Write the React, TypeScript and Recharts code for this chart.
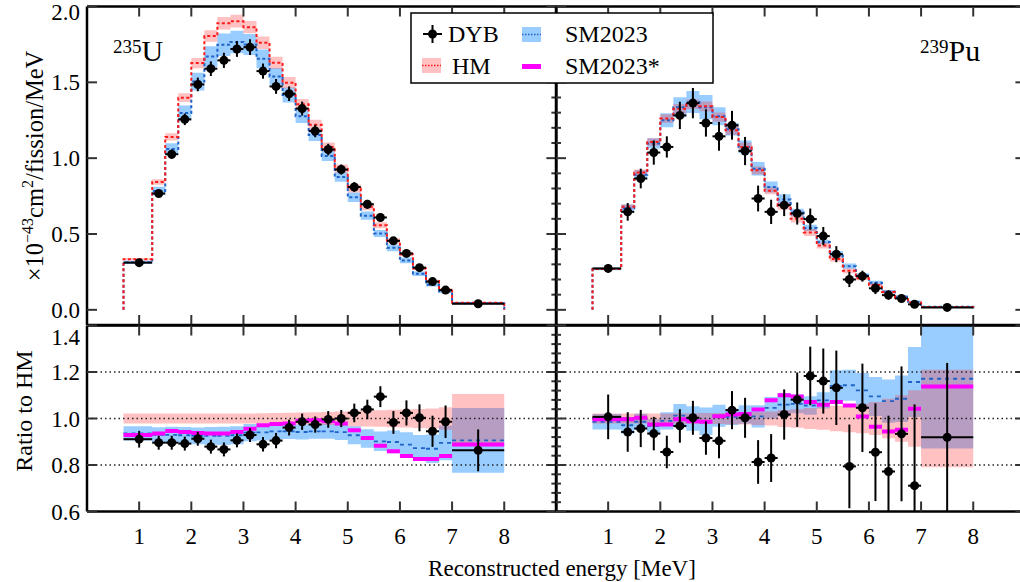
import { ComposedChart, Line, Area, Scatter, XAxis, YAxis, ErrorBar, ReferenceLine } from 'recharts';

const FONT = '"Liberation Serif", "Times New Roman", serif';
const TICK = '#333';

// reconstructed energy binning [MeV]
const binEdges = [0.7, 1.25, 1.5, 1.75, 2.0, 2.25, 2.5, 2.75, 3.0, 3.25, 3.5, 3.75, 4.0, 4.25, 4.5, 4.75, 5.0, 5.25, 5.5, 5.75, 6.0, 6.25, 6.5, 6.75, 7.0, 8.0];
const dybEnergy = [1.0, 1.375, 1.625, 1.875, 2.125, 2.375, 2.625, 2.875, 3.125, 3.375, 3.625, 3.875, 4.125, 4.375, 4.625, 4.875, 5.125, 5.375, 5.625, 5.875, 6.125, 6.375, 6.625, 6.875, 7.5];

const xTicks = [1, 2, 3, 4, 5, 6, 7, 8];
const specTicks = [0, 0.5, 1.0, 1.5, 2.0];
const specMinor = [0.1, 0.2, 0.3, 0.4, 0.6, 0.7, 0.8, 0.9, 1.1, 1.2, 1.3, 1.4, 1.6, 1.7, 1.8, 1.9];
const ratioTicks = [0.6, 0.8, 1.0, 1.2, 1.4];
const ratioMinor = [0.64, 0.68, 0.72, 0.76, 0.84, 0.88, 0.92, 0.96, 1.04, 1.08, 1.12, 1.16, 1.24, 1.28, 1.32, 1.36];
const ratioGrid = [0.8, 1.0, 1.2];

// 235U, x10^-43 cm2/fission/MeV
const u235Dyb = [0.311, 0.767, 1.026, 1.256, 1.486, 1.59, 1.645, 1.72, 1.732, 1.574, 1.473, 1.425, 1.327, 1.179, 1.057, 0.925, 0.81, 0.696, 0.609, 0.455, 0.372, 0.278, 0.186, 0.13, 0.04];
const u235DybErr = [0.011, 0.023, 0.031, 0.038, 0.045, 0.048, 0.05, 0.052, 0.052, 0.05, 0.049, 0.048, 0.046, 0.041, 0.038, 0.033, 0.032, 0.029, 0.027, 0.022, 0.02, 0.016, 0.012, 0.009, 0.004];
const u235Hm = [0.334, 0.843, 1.14, 1.399, 1.627, 1.805, 1.89, 1.903, 1.864, 1.761, 1.629, 1.498, 1.355, 1.22, 1.074, 0.931, 0.8, 0.679, 0.558, 0.455, 0.367, 0.273, 0.19, 0.135, 0.047];
const u235Sm = [0.313, 0.784, 1.06, 1.298, 1.505, 1.67, 1.748, 1.766, 1.75, 1.655, 1.539, 1.416, 1.276, 1.153, 1.015, 0.876, 0.742, 0.621, 0.503, 0.409, 0.326, 0.238, 0.165, 0.121, 0.043];
// 235U, ratio to HM
const u235DybRatio = [0.911, 0.896, 0.896, 0.892, 0.913, 0.879, 0.867, 0.906, 0.929, 0.889, 0.905, 0.961, 0.986, 0.974, 0.996, 1.0, 1.024, 1.039, 1.094, 0.983, 1.024, 1.003, 0.945, 0.986, 0.863];
const u235DybRatioErr = [0.036, 0.03, 0.03, 0.03, 0.03, 0.03, 0.03, 0.03, 0.03, 0.031, 0.033, 0.034, 0.035, 0.035, 0.036, 0.037, 0.04, 0.042, 0.045, 0.049, 0.054, 0.058, 0.067, 0.07, 0.09];
const u235HmErr = [0.021, 0.021, 0.021, 0.021, 0.021, 0.021, 0.022, 0.022, 0.022, 0.023, 0.024, 0.025, 0.026, 0.027, 0.028, 0.03, 0.033, 0.034, 0.036, 0.038, 0.039, 0.041, 0.043, 0.048, 0.105];
const u235SmRatio = [0.936, 0.93, 0.93, 0.928, 0.925, 0.925, 0.925, 0.928, 0.939, 0.94, 0.945, 0.945, 0.942, 0.945, 0.945, 0.941, 0.928, 0.914, 0.902, 0.899, 0.888, 0.873, 0.87, 0.895, 0.906];
const u235SmErr = [0.031, 0.032, 0.034, 0.035, 0.036, 0.038, 0.039, 0.039, 0.037, 0.035, 0.034, 0.033, 0.032, 0.032, 0.032, 0.034, 0.039, 0.04, 0.042, 0.049, 0.053, 0.056, 0.061, 0.075, 0.139];
const u235SmStar = [0.929, 0.936, 0.946, 0.942, 0.938, 0.936, 0.936, 0.942, 0.956, 0.971, 0.976, 0.978, 0.99, 0.993, 0.988, 0.978, 0.95, 0.916, 0.883, 0.859, 0.839, 0.826, 0.826, 0.839, 0.888];

// 239Pu, x10^-43 cm2/fission/MeV
const pu239Dyb = [0.273, 0.646, 0.866, 1.037, 1.074, 1.282, 1.363, 1.232, 1.144, 1.217, 1.047, 0.734, 0.646, 0.69, 0.635, 0.598, 0.486, 0.367, 0.2, 0.222, 0.142, 0.097, 0.075, 0.036, 0.016];
const pu239DybErr = [0.026, 0.058, 0.065, 0.08, 0.07, 0.09, 0.1, 0.09, 0.095, 0.095, 0.093, 0.085, 0.08, 0.072, 0.073, 0.07, 0.06, 0.053, 0.05, 0.036, 0.038, 0.03, 0.025, 0.02, 0.006];
const pu239Hm = [0.27, 0.679, 0.905, 1.107, 1.261, 1.326, 1.355, 1.342, 1.271, 1.184, 1.074, 0.92, 0.785, 0.685, 0.6, 0.51, 0.424, 0.335, 0.257, 0.208, 0.163, 0.118, 0.08, 0.048, 0.018];
const pu239Sm = [0.27, 0.67, 0.89, 1.097, 1.25, 1.335, 1.37, 1.336, 1.276, 1.19, 1.074, 0.93, 0.81, 0.727, 0.642, 0.54, 0.448, 0.367, 0.288, 0.226, 0.178, 0.12, 0.086, 0.053, 0.02];
// 239Pu, ratio to HM
const pu239DybRatio = [1.007, 0.942, 0.957, 0.935, 0.856, 0.968, 1.003, 0.916, 0.904, 1.036, 1.003, 0.813, 0.83, 1.017, 1.081, 1.183, 1.161, 1.132, 0.794, 1.046, 0.855, 0.772, 0.934, 0.711, 0.919];
const pu239DybRatioErr = [0.096, 0.085, 0.08, 0.072, 0.07, 0.072, 0.073, 0.072, 0.075, 0.082, 0.086, 0.094, 0.103, 0.108, 0.117, 0.126, 0.14, 0.16, 0.18, 0.19, 0.21, 0.24, 0.29, 0.35, 0.32];
const pu239HmErr = [0.022, 0.022, 0.022, 0.022, 0.022, 0.023, 0.023, 0.024, 0.024, 0.025, 0.026, 0.028, 0.03, 0.037, 0.04, 0.045, 0.048, 0.055, 0.059, 0.063, 0.071, 0.085, 0.1, 0.121, 0.21];
const pu239SmRatio = [0.986, 0.971, 0.986, 0.967, 0.99, 1.012, 1.0, 0.988, 1.012, 1.007, 1.017, 1.009, 1.046, 1.06, 1.063, 1.056, 1.078, 1.14, 1.143, 1.121, 1.095, 1.075, 1.085, 1.157, 1.171];
const pu239SmErr = [0.033, 0.035, 0.034, 0.03, 0.037, 0.05, 0.053, 0.059, 0.047, 0.035, 0.04, 0.048, 0.047, 0.05, 0.04, 0.04, 0.035, 0.067, 0.067, 0.075, 0.084, 0.093, 0.1, 0.151, 0.3];
const pu239SmStar = [0.997, 0.997, 1.003, 0.974, 0.974, 0.997, 0.988, 0.986, 1.01, 1.017, 1.019, 1.039, 1.079, 1.1, 1.095, 1.071, 1.059, 1.071, 1.056, 1.009, 0.965, 0.944, 0.952, 1.042, 1.138];

const u235 = {
  dyb: u235Dyb, dybErr: u235DybErr, hm: u235Hm, sm: u235Sm,
  dybRatio: u235DybRatio, dybRatioErr: u235DybRatioErr, hmErr: u235HmErr,
  smRatio: u235SmRatio, smErr: u235SmErr, smStar: u235SmStar,
};
const pu239 = {
  dyb: pu239Dyb, dybErr: pu239DybErr, hm: pu239Hm, sm: pu239Sm,
  dybRatio: pu239DybRatio, dybRatioErr: pu239DybRatioErr, hmErr: pu239HmErr,
  smRatio: pu239SmRatio, smErr: pu239SmErr, smStar: pu239SmStar,
};
type Iso = typeof u235;

// geometry
const PLOT_W = 469.4;
const AXIS_W = 87;
const MID = 556.4;
const SPLIT = 325;

// histogram helpers
const closedStep = (vals: number[]) => [
  { x: binEdges[0], y: 0 },
  ...vals.map((v, i) => ({ x: binEdges[i], y: v })),
  { x: binEdges[vals.length], y: 0 },
];
const bandStep = (lo: number[], hi: number[]) => [
  ...lo.map((l, i) => ({ x: binEdges[i], band: [l, hi[i]] })),
  { x: binEdges[lo.length], band: [lo[lo.length - 1], hi[hi.length - 1]] },
];
const segments = (vals: number[]) =>
  vals.flatMap((v, i) => [
    { x: binEdges[i], y: v },
    { x: binEdges[i + 1], y: v },
    { x: binEdges[i + 1], y: null },
  ]);
// error bars are cut at the frame, like the plot does
const points = (vals: number[], errs: number[], dom: number[]) =>
  vals.map((v, i) => ({
    x: dybEnergy[i],
    y: v,
    ey: [Math.min(errs[i], v - dom[0]), Math.min(errs[i], dom[1] - v)],
    ex: [dybEnergy[i] - binEdges[i], binEdges[i + 1] - dybEnergy[i]],
  }));

const txt = { fontFamily: FONT, fontSize: 23, fill: '#000' };

const leftTick = (labels: boolean, majors: number[], minors: number[], top: number, topShift: number) => (p: any) => {
  const v = p.payload.value;
  const major = majors.includes(v);
  if (!major && !minors.includes(v)) return <g />;
  return (
    <g>
      <line x1={p.x} x2={p.x + (major ? 10 : 5)} y1={p.y} y2={p.y} stroke={TICK} strokeWidth={2} />
      {labels && major && (
        <text x={p.x - 7} y={p.y + (v === top ? topShift : 0)} dy="0.35em" textAnchor="end" {...txt}>
          {v.toFixed(1)}
        </text>
      )}
    </g>
  );
};
const rightTick = (majors: number[]) => (p: any) => {
  const major = majors.includes(p.payload.value);
  return <line x1={p.x} x2={p.x - (major ? 10 : 5)} y1={p.y} y2={p.y} stroke={TICK} strokeWidth={2} />;
};
const bottomTick = (labels: boolean) => (p: any) => (
  <g>
    <line x1={p.x} x2={p.x} y1={p.y} y2={p.y - 10} stroke={TICK} strokeWidth={2} />
    {labels && (
      <text x={p.x} y={p.y + 24} dy="0.35em" textAnchor="middle" {...txt}>
        {p.payload.value}
      </text>
    )}
  </g>
);
const topTick = (p: any) => <line x1={p.x} x2={p.x} y1={p.y} y2={p.y + 10} stroke={TICK} strokeWidth={2} />;

const frame = { stroke: '#000', strokeWidth: 2.5 };

function Panel({ iso, kind, side }: { iso: Iso; kind: 'spec' | 'ratio'; side: 'L' | 'R' }) {
  const spec = kind === 'spec';
  const domain = spec ? [-0.1, 2.0] : [0.6, 1.4];
  const majors = spec ? specTicks : ratioTicks;
  const minors = spec ? specMinor : ratioMinor;
  const plotH = spec ? 318.5 : 186;
  const bottomH = spec ? 10 : 70;
  const width = AXIS_W + PLOT_W + 20;
  const height = 6.5 + plotH + bottomH;
  const left = side === 'L' ? 0 : MID - AXIS_W;
  const top = spec ? 0 : SPLIT - 6.5;

  let smBand, hmBand, smLine, hmLine, starLine, pts;
  if (spec) {
    smBand = bandStep(
      iso.sm.map((v, i) => v * (1 - iso.smErr[i] / iso.smRatio[i])),
      iso.sm.map((v, i) => v * (1 + iso.smErr[i] / iso.smRatio[i]))
    );
    hmBand = bandStep(iso.hm.map((v, i) => v * (1 - iso.hmErr[i])), iso.hm.map((v, i) => v * (1 + iso.hmErr[i])));
    smLine = closedStep(iso.sm);
    hmLine = closedStep(iso.hm);
    pts = points(iso.dyb, iso.dybErr, domain);
  } else {
    smBand = bandStep(iso.smRatio.map((v, i) => v - iso.smErr[i]), iso.smRatio.map((v, i) => v + iso.smErr[i]));
    hmBand = bandStep(iso.hmErr.map((e) => 1 - e), iso.hmErr.map((e) => 1 + e));
    smLine = segments(iso.smRatio);
    starLine = segments(iso.smStar);
    pts = points(iso.dybRatio, iso.dybRatioErr, domain);
  }

  const leftMinors = side === 'R' ? minors : [];

  return (
    <div style={{ position: 'absolute', left, top, width, height }}>
      <ComposedChart width={width} height={height} margin={{ top: 0, right: 0, bottom: 0, left: 0 }}>
        <XAxis xAxisId="b" type="number" dataKey="x" domain={[0, 9]} ticks={xTicks} interval={0}
          orientation="bottom" height={bottomH} tickSize={0} tickMargin={0} tickLine={false}
          tick={bottomTick(!spec)} axisLine={frame} allowDataOverflow />
        <XAxis xAxisId="t" type="number" dataKey="x" domain={[0, 9]} ticks={xTicks} interval={0}
          orientation="top" height={6.5} tickSize={0} tickMargin={0} tickLine={false}
          tick={topTick} axisLine={frame} allowDataOverflow />
        <YAxis yAxisId="l" type="number" domain={domain} ticks={[...majors, ...leftMinors]} interval={0}
          width={AXIS_W} tickSize={0} tickMargin={0} tickLine={false}
          tick={leftTick(side === 'L', majors, leftMinors, domain[1], spec ? 5 : 11)} axisLine={frame} allowDataOverflow />
        <YAxis yAxisId="r" orientation="right" type="number" domain={domain} ticks={[...majors, ...minors]} interval={0}
          width={20} tickSize={0} tickMargin={0} tickLine={false}
          tick={rightTick(majors)} axisLine={frame} allowDataOverflow />

        <Area xAxisId="b" yAxisId="l" data={smBand} dataKey="band" type="stepAfter" stroke="none"
          fill="#3399ff" fillOpacity={0.5} isAnimationActive={false} legendType="none" />
        <Area xAxisId="b" yAxisId="l" data={hmBand} dataKey="band" type="stepAfter" stroke="none"
          fill="#ff3333" fillOpacity={0.3} isAnimationActive={false} legendType="none" />

        {!spec && ratioGrid.map((g) => (
          <ReferenceLine key={g} xAxisId="b" yAxisId="l" y={g} stroke="#222" strokeWidth={1.3} strokeDasharray="1.5 3" />
        ))}

        {spec ? (
          <Line xAxisId="b" yAxisId="l" data={smLine} dataKey="y" type="stepAfter" stroke="#1f62c8"
            strokeWidth={2} strokeDasharray="3 2.5" dot={false} activeDot={false} isAnimationActive={false} />
        ) : (
          <Line xAxisId="b" yAxisId="l" data={smLine} dataKey="y" type="linear" stroke="#1f62c8"
            strokeWidth={1.8} strokeDasharray="4 4" dot={false} activeDot={false} connectNulls={false} isAnimationActive={false} />
        )}
        {spec && (
          <Line xAxisId="b" yAxisId="l" data={hmLine} dataKey="y" type="stepAfter" stroke="#ff1a1a"
            strokeWidth={2} strokeDasharray="3 2.5" dot={false} activeDot={false} isAnimationActive={false} />
        )}
        {!spec && (
          <Line xAxisId="b" yAxisId="l" data={starLine} dataKey="y" type="linear" stroke="#ff00ff"
            strokeWidth={4} dot={false} activeDot={false} connectNulls={false} isAnimationActive={false} />
        )}

        <Scatter xAxisId="b" yAxisId="l" data={pts} dataKey="y" isAnimationActive={false}
          shape={(p: any) => <circle cx={p.cx} cy={p.cy} r={4.5} fill="#000" />}>
          <ErrorBar dataKey="ey" direction="y" width={0} stroke="#000" strokeWidth={2} isAnimationActive={false} />
          <ErrorBar dataKey="ex" direction="x" width={0} stroke="#000" strokeWidth={2} isAnimationActive={false} />
        </Scatter>
      </ComposedChart>
    </div>
  );
}

function Overlay() {
  return (
    <svg width={1020} height={582} style={{ position: 'absolute', left: 0, top: 0 }}>
      {/* isotope labels */}
      <text x={113} y={61} fontFamily={FONT} fontSize={30} fill="#000">
        <tspan fontSize={19} dy={-8}>235</tspan>
        <tspan dy={8}>U</tspan>
      </text>
      <text x={920} y={61} fontFamily={FONT} fontSize={30} fill="#000">
        <tspan fontSize={19} dy={-8}>239</tspan>
        <tspan dy={8}>Pu</tspan>
      </text>

      {/* legend */}
      <rect x={411} y={13} width={302} height={70} fill="#fff" stroke="#000" strokeWidth={1.5} />
      <line x1={423} x2={442} y1={34} y2={34} stroke="#000" strokeWidth={2} />
      <line x1={432.5} x2={432.5} y1={25} y2={43} stroke="#000" strokeWidth={2} />
      <circle cx={432.5} cy={34} r={4.5} fill="#000" />
      <text x={448} y={42} {...txt} fontSize={24}>DYB</text>

      <rect x={422} y={58} width={19} height={15} fill="#ff3333" fillOpacity={0.3} />
      <line x1={422} x2={441} y1={65.5} y2={65.5} stroke="#ff1a1a" strokeWidth={1.5} strokeDasharray="1.5 1.5" />
      <text x={452} y={74} {...txt} fontSize={24}>HM</text>

      <rect x={522} y={27} width={19} height={15} fill="#3399ff" fillOpacity={0.5} />
      <line x1={522} x2={541} y1={34.5} y2={34.5} stroke="#1f62c8" strokeWidth={1.5} strokeDasharray="1.5 1.5" />
      <text x={565} y={42} {...txt} fontSize={24}>SM2023</text>

      <line x1={522} x2={541} y1={66.5} y2={66.5} stroke="#ff00ff" strokeWidth={5} />
      <text x={565} y={74} {...txt} fontSize={24}>SM2023*</text>

      {/* axis titles */}
      <text transform="translate(43,166) rotate(-90)" textAnchor="middle" {...txt} fontSize={24.5}>
        ×10<tspan fontSize={16} dy={-10}>−43</tspan>
        <tspan dy={10}>cm</tspan>
        <tspan fontSize={16} dy={-10}>2</tspan>
        <tspan dy={10}>/fission/MeV</tspan>
      </text>
      <text transform="translate(32,411) rotate(-90)" textAnchor="middle" {...txt} fontSize={24}>
        Ratio to HM
      </text>
      <text x={562} y={576} textAnchor="middle" {...txt}>
        Reconstructed energy [MeV]
      </text>
    </svg>
  );
}

export default function App() {
  return (
    <div style={{ position: 'absolute', left: 0, top: 0, width: 1020, height: 582, overflow: 'hidden', background: '#fff' }}>
      <Panel iso={u235} kind="spec" side="L" />
      <Panel iso={pu239} kind="spec" side="R" />
      <Panel iso={u235} kind="ratio" side="L" />
      <Panel iso={pu239} kind="ratio" side="R" />
      <Overlay />
    </div>
  );
}
